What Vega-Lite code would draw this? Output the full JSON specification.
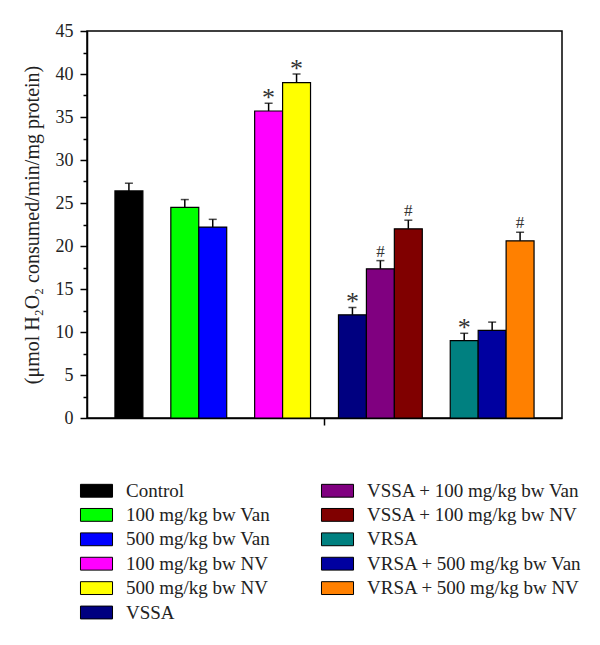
{
  "$schema": "https://vega.github.io/schema/vega-lite/v6.json",
  "width": 475,
  "height": 387,
  "autosize": "none",
  "padding": {"left": 87, "top": 31, "right": 38, "bottom": 227},
  "background": "white",
  "config": {
    "view": {"stroke": "black", "strokeWidth": 1.5},
    "font": "Liberation Serif",
    "axis": {"labelFont": "Liberation Serif", "titleFont": "Liberation Serif", "labelColor": "#222", "titleColor": "#222", "domainColor": "black", "tickColor": "black", "domainWidth": 1.5, "tickWidth": 1.5, "grid": false}
  },
  "data": {
    "values": [
      {"treatment": "Control", "mean": 26.4, "upper": 27.3, "sig": ""},
      {"treatment": "100 mg/kg bw Van", "mean": 24.5, "upper": 25.4, "sig": ""},
      {"treatment": "500 mg/kg bw Van", "mean": 22.2, "upper": 23.1, "sig": ""},
      {"treatment": "100 mg/kg bw NV", "mean": 35.7, "upper": 36.6, "sig": "*"},
      {"treatment": "500 mg/kg bw NV", "mean": 39.0, "upper": 40.0, "sig": "*"},
      {"treatment": "VSSA", "mean": 12.0, "upper": 12.85, "sig": "*"},
      {"treatment": "VSSA + 100 mg/kg bw Van", "mean": 17.35, "upper": 18.3, "sig": "#"},
      {"treatment": "VSSA + 100 mg/kg bw NV", "mean": 22.0, "upper": 23.0, "sig": "#"},
      {"treatment": "VRSA", "mean": 9.0, "upper": 9.85, "sig": "*"},
      {"treatment": "VRSA + 500 mg/kg bw Van", "mean": 10.2, "upper": 11.15, "sig": ""},
      {"treatment": "VRSA + 500 mg/kg bw NV", "mean": 20.6, "upper": 21.6, "sig": "#"}
    ]
  },
  "encoding": {
    "x": {
      "field": "treatment",
      "type": "nominal",
      "scale": {
        "domain": ["Control", "_s1", "100 mg/kg bw Van", "500 mg/kg bw Van", "_s2", "100 mg/kg bw NV", "500 mg/kg bw NV", "_s3", "VSSA", "VSSA + 100 mg/kg bw Van", "VSSA + 100 mg/kg bw NV", "_s4", "VRSA", "VRSA + 500 mg/kg bw Van", "VRSA + 500 mg/kg bw NV"],
        "paddingInner": 0,
        "paddingOuter": 1.85
      },
      "axis": {"values": ["_s3"], "labels": false, "title": null, "tickSize": 7}
    }
  },
  "layer": [
    {
      "mark": {"type": "bar", "stroke": "black", "strokeWidth": 1.2},
      "encoding": {
        "y": {
          "field": "mean",
          "type": "quantitative",
          "scale": {"domain": [0, 45], "nice": false},
          "axis": {"values": [0, 5, 10, 15, 20, 25, 30, 35, 40, 45], "tickSize": 7, "labelFontSize": 18, "labelPadding": 7, "title": "(μmol H₂O₂ consumed/min/mg protein)", "titleFontSize": 20, "titleFontWeight": "normal", "titlePadding": 13}
        },
        "color": {
          "field": "treatment",
          "type": "nominal",
          "scale": {
            "domain": ["Control", "100 mg/kg bw Van", "500 mg/kg bw Van", "100 mg/kg bw NV", "500 mg/kg bw NV", "VSSA", "VSSA + 100 mg/kg bw Van", "VSSA + 100 mg/kg bw NV", "VRSA", "VRSA + 500 mg/kg bw Van", "VRSA + 500 mg/kg bw NV"],
            "range": ["#000000", "#00ff00", "#0000ff", "#ff00ff", "#ffff00", "#000080", "#800080", "#800000", "#008080", "#0000a0", "#ff8000"]
          },
          "legend": {
            "title": null,
            "orient": "none",
            "legendX": 0,
            "legendY": 450,
            "columns": 2,
            "columnPadding": 48,
            "rowPadding": 4.4,
            "symbolType": "M-2.67,-1.07H2.67V1.07H-2.67Z",
            "symbolSize": 144,
            "symbolStrokeColor": "black",
            "symbolStrokeWidth": 1,
            "symbolOpacity": 1,
            "labelFont": "Liberation Serif",
            "labelFontSize": 19,
            "labelColor": "#222",
            "labelOffset": 20,
            "labelLimit": 0
          }
        }
      }
    },
    {
      "mark": {"type": "rule", "color": "black", "strokeWidth": 1.5},
      "encoding": {
        "y": {"field": "mean", "type": "quantitative", "axis": {"orient": "left", "values": [2.5, 7.5, 12.5, 17.5, 22.5, 27.5, 32.5, 37.5, 42.5], "labels": false, "domain": false, "tickSize": 4, "title": null}},
        "y2": {"field": "upper"}
      }
    },
    {
      "mark": {"type": "tick", "color": "black", "size": 8, "thickness": 1.5},
      "encoding": {
        "y": {"field": "upper", "type": "quantitative", "axis": null}
      }
    },
    {
      "transform": [{"filter": "datum.sig == '*'"}],
      "mark": {"type": "text", "fontSize": 26, "baseline": "alphabetic", "dy": 3, "color": "#333"},
      "encoding": {
        "y": {"field": "upper", "type": "quantitative", "axis": null},
        "text": {"field": "sig"}
      }
    },
    {
      "transform": [{"filter": "datum.sig == '#'"}],
      "mark": {"type": "text", "fontSize": 17, "baseline": "alphabetic", "dy": -4, "color": "#333"},
      "encoding": {
        "y": {"field": "upper", "type": "quantitative", "axis": null},
        "text": {"field": "sig"}
      }
    }
  ],
  "resolve": {"axis": {"y": "independent"}}
}
